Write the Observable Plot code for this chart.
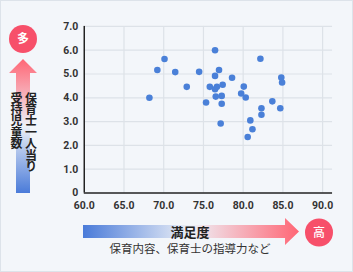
<!DOCTYPE html>
<html><head><meta charset="utf-8">
<script src="https://cdn.jsdelivr.net/npm/d3@7"></script>
<script src="https://cdn.jsdelivr.net/npm/@observablehq/plot@0.6"></script>
<style>
html,body{margin:0;padding:0;background:#fff;}
#wrap{position:relative;width:353px;height:272px;box-sizing:border-box;background:#f3f6fa;border:1px solid #dde3ea;overflow:hidden;font-family:"Noto Sans CJK JP","Noto Sans",sans-serif;}
#chart{position:absolute;left:-1px;top:-1px;}
#deco{position:absolute;left:-1px;top:-1px;}
.vt{position:absolute;writing-mode:vertical-rl;font-weight:700;font-size:12px;color:#222;line-height:12px;width:12px;letter-spacing:-0.6px;font-family:"Noto Sans CJK JP";}
</style></head>
<body>
<div id="wrap">
<div id="chart"></div>
<svg id="deco" width="353" height="272">
<defs>
<linearGradient id="gv" x1="0" y1="0" x2="0" y2="1">
<stop offset="0" stop-color="#ff6675"/>
<stop offset="0.5" stop-color="#eef1f7"/>
<stop offset="1" stop-color="#4a7bd9"/>
</linearGradient>
<linearGradient id="gh" x1="0" y1="0" x2="1" y2="0">
<stop offset="0" stop-color="#4a7bd9"/>
<stop offset="0.5" stop-color="#eef1f7"/>
<stop offset="1" stop-color="#ff6675"/>
</linearGradient>
</defs>
</svg>
<div class="vt" style="left:23.5px;top:91px;">保育士一人当り</div>
<div class="vt" style="left:9px;top:91px;">受持児童数</div>
</div>
<script>
const satisfaction = [68.2,69.2,70.1,71.45,72.9,74.46,75.33,75.8,76.46,76.96,76.46,78.6,76.7,77.42,76.46,80.08,76.55,77.3,79.75,80.32,77.3,77.17,82.17,84.8,84.9,83.67,82.3,84.67,82.3,80.9,81.17,80.57];
const childrenPerTeacher = [4.0,5.17,5.63,5.08,4.46,5.09,3.8,4.46,6.0,5.17,4.92,4.84,4.46,4.55,4.36,4.47,4.05,4.08,4.18,4.01,3.75,2.92,5.64,4.85,4.64,3.85,3.56,3.56,3.29,3.05,2.68,2.35];
const xTicks = [60,65,70,75,80,85,90];
const yTicks = [0,1,2,3,4,5,6,7];
const labels = {yTitle:["保育士一人当り","受持児童数"], xTitle:"満足度", xSub:"保育内容、保育士の指導力など", high:"高", many:"多"};

const data = satisfaction.map((x,i)=>({x, y: childrenPerTeacher[i]}));
const tickFont = {fontFamily:"Roboto, 'Noto Sans', sans-serif", fontWeight:700, fontSize:10.5, fill:"#333"};

const plot = Plot.plot({
  width:353, height:272,
  marginLeft:84, marginRight:20, marginTop:26, marginBottom:79,
  style:{background:"transparent", overflow:"visible"},
  x:{domain:[60,91.25], ticks:xTicks},
  y:{domain:[0,7], ticks:yTicks},
  marks:[
    Plot.gridX(xTicks.slice(1), {stroke:"#dde2e8", strokeOpacity:1, strokeWidth:1.2}),
    Plot.gridY(yTicks.slice(1), {stroke:"#dde2e8", strokeOpacity:1, strokeWidth:1.2}),
    Plot.axisX({ticks:xTicks, tickSize:0, tickPadding:9, tickFormat:d3.format(".1f"), ...tickFont, label:null}),
    Plot.axisY({ticks:yTicks, tickSize:0, tickPadding:6, tickFormat:d=>d===0?"0":d.toFixed(1), ...tickFont, label:null}),
    Plot.ruleX([60], {stroke:"#222", strokeWidth:1.5}),
    Plot.ruleY([0], {stroke:"#222", strokeWidth:1.5}),
    Plot.dot(data, {x:"x", y:"y", r:3.3, fill:"#4a80d8", stroke:"none"})
  ]
});
document.getElementById("chart").appendChild(plot);

// decorations
const svg = d3.select("#deco");
svg.append("path").attr("d","M16,193 L16,73 L9,73 L23,59 L37,73 L30,73 L30,193 Z").attr("fill","url(#gv)");
svg.append("path").attr("d","M83,225 L285,225 L285,218 L299,231.5 L285,245 L285,238 L83,238 Z").attr("fill","url(#gh)");
svg.append("circle").attr("cx",23).attr("cy",39).attr("r",14).attr("fill","#f7506a");
svg.append("text").attr("x",23).attr("y",39).attr("dy","0.36em").attr("text-anchor","middle").attr("fill","#fff").attr("font-size",12).attr("font-weight",700).attr("font-family","'Noto Sans CJK JP'").text(labels.many);
svg.append("circle").attr("cx",319).attr("cy",232.5).attr("r",14).attr("fill","#f7506a");
svg.append("text").attr("x",319).attr("y",232.5).attr("dy","0.36em").attr("text-anchor","middle").attr("fill","#fff").attr("font-size",12).attr("font-weight",500).attr("font-family","'Noto Sans CJK JP'").text(labels.high);
svg.append("text").attr("x",190).attr("y",232).attr("dy","0.36em").attr("text-anchor","middle").attr("fill","#222").attr("font-size",13).attr("font-weight",700).attr("font-family","'Noto Sans CJK JP'").text(labels.xTitle);
svg.append("text").attr("x",190).attr("y",249).attr("dy","0.36em").attr("text-anchor","middle").attr("fill","#333").attr("font-size",11.5).attr("font-family","'Noto Sans CJK JP'").text(labels.xSub);
</script>
</body></html>
